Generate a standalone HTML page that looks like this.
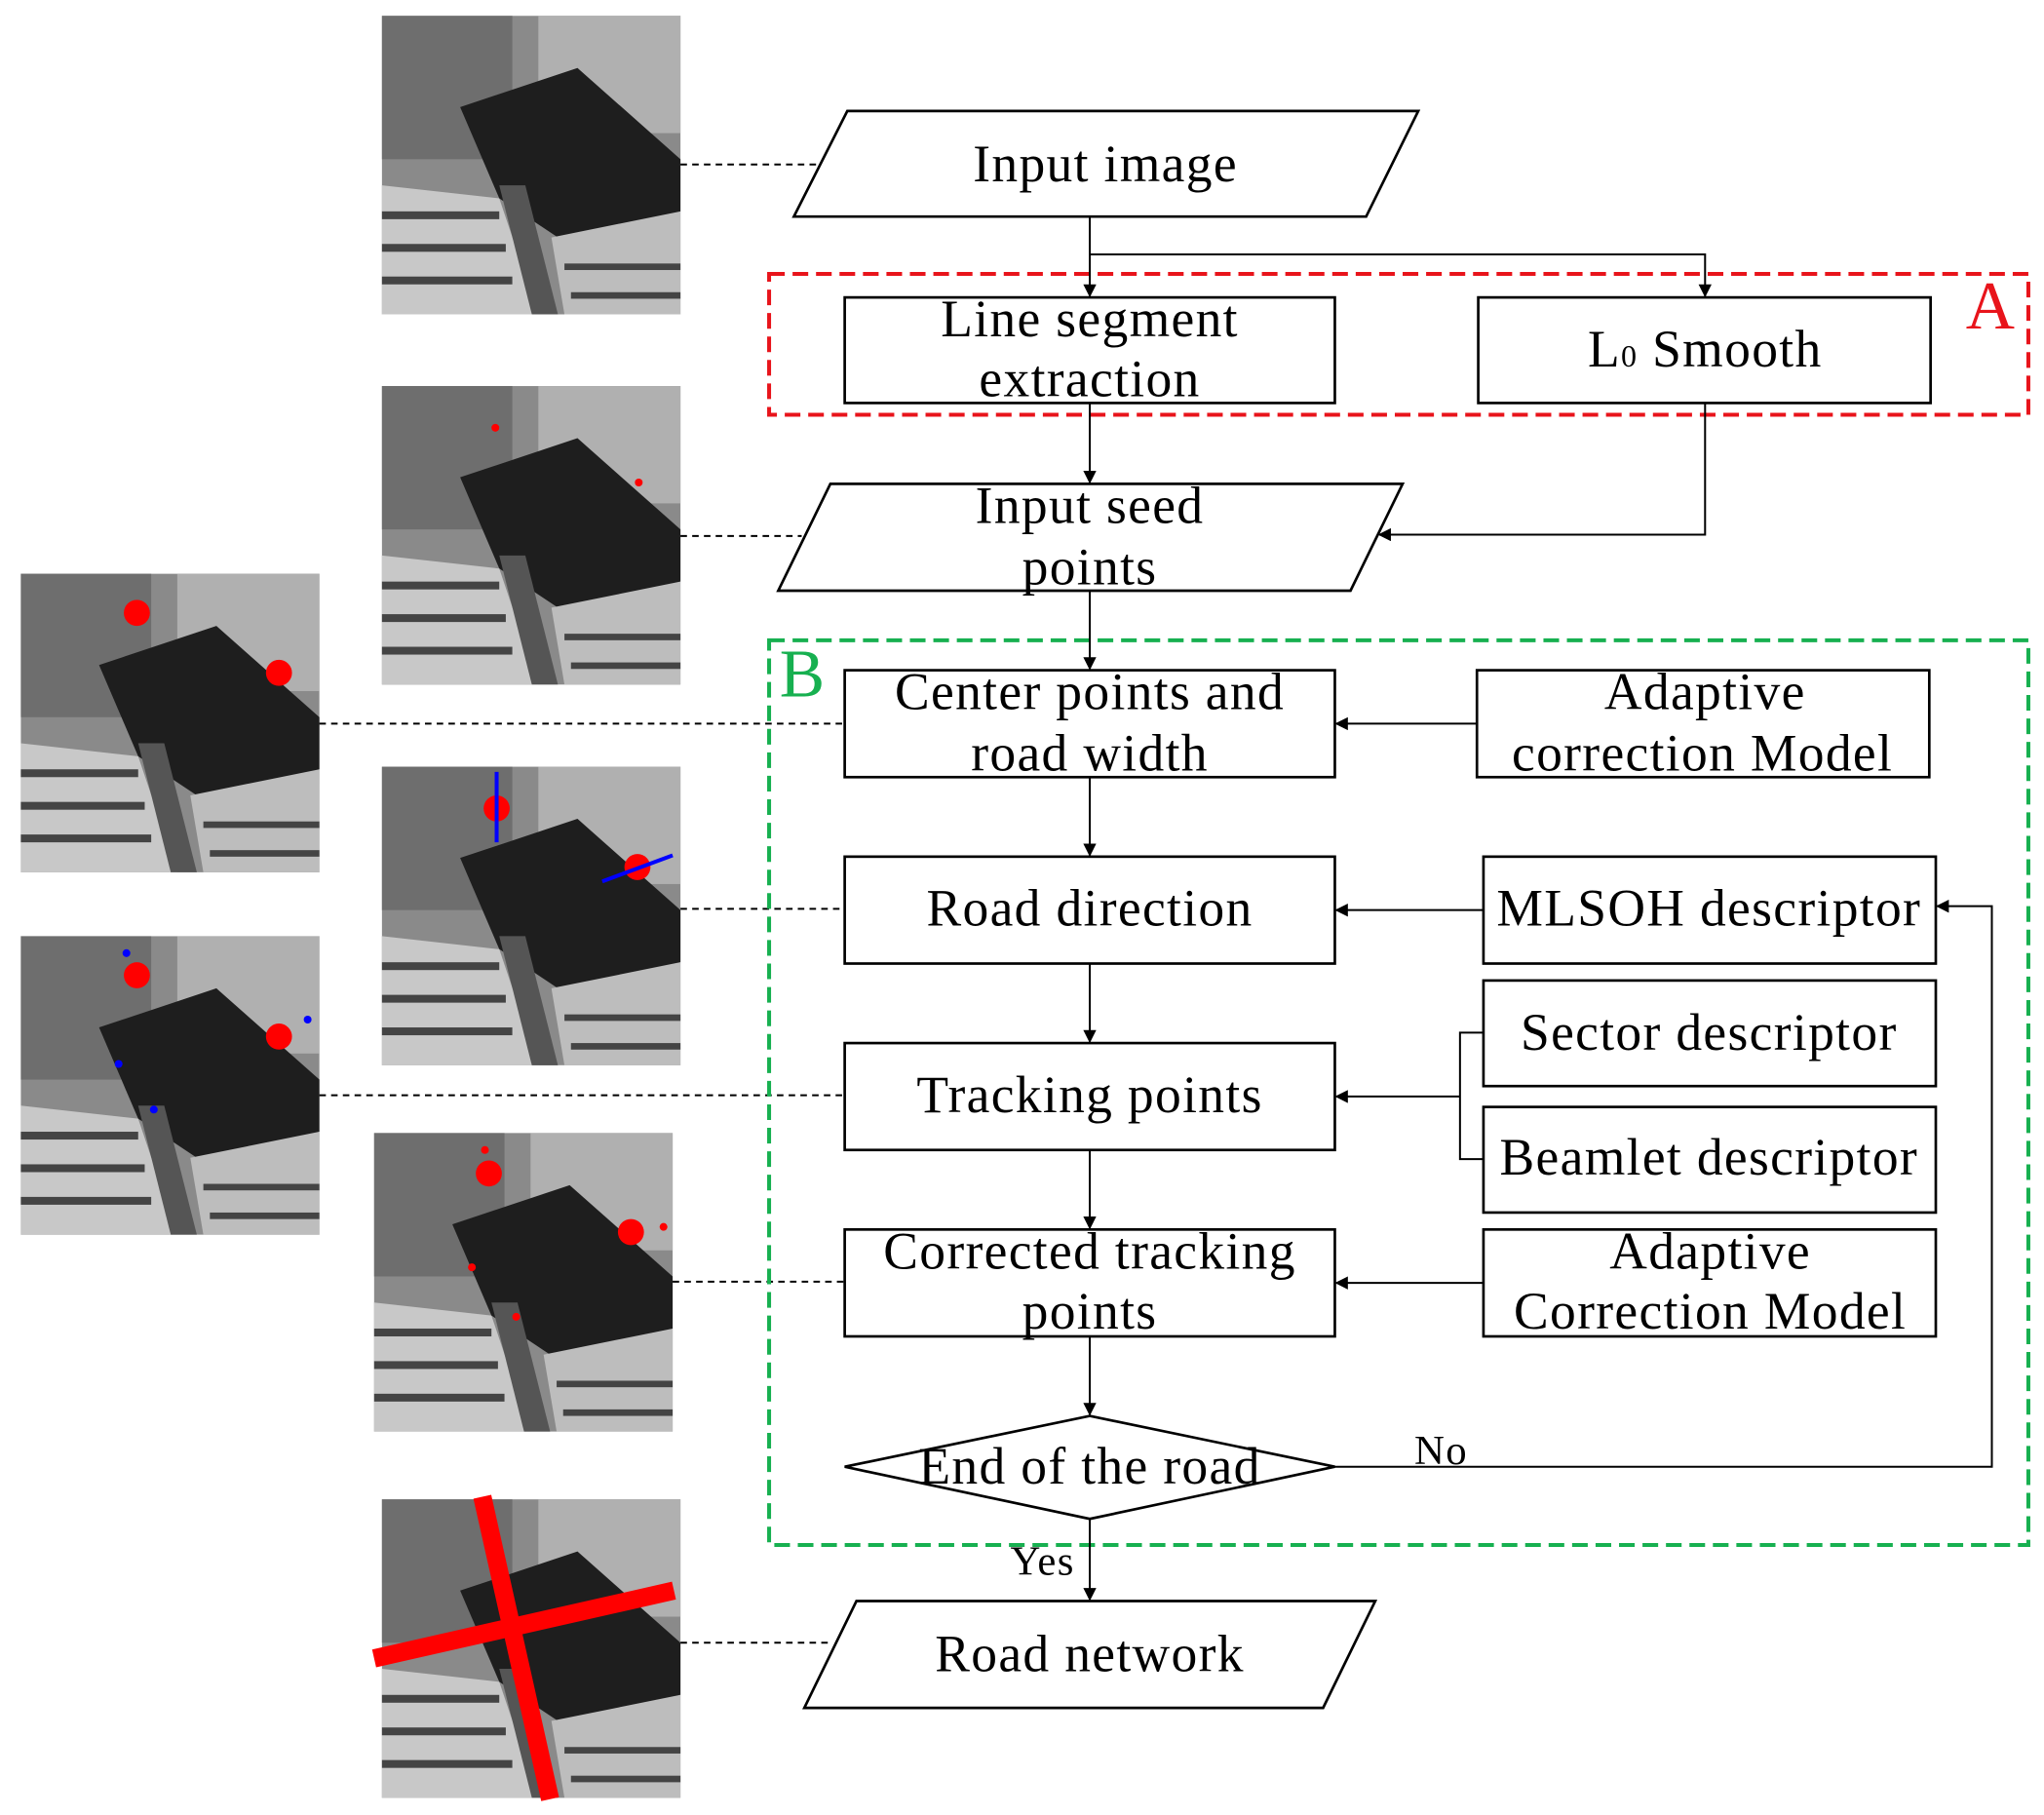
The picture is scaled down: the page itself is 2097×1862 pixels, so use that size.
<!DOCTYPE html>
<html><head><meta charset="utf-8"><style>
html,body{margin:0;padding:0;background:#fff;}
svg{display:block;}
text{font-family:"Liberation Serif",serif;font-size:40px;letter-spacing:1px;fill:#000;}
</style></head><body>
<svg width="2097" height="1862" viewBox="0 0 1568 1392" xmlns="http://www.w3.org/2000/svg">
<defs>
<marker id="ar" markerWidth="10" markerHeight="10" refX="9" refY="5" orient="auto" markerUnits="userSpaceOnUse"><path d="M0,0 L10,5 L0,10 z" fill="#000"/></marker>
<g id="img">
<rect x="0" y="0" width="229" height="229" fill="#8a8a8a"/>
<rect x="0" y="0" width="100" height="110" fill="#6e6e6e"/>
<rect x="120" y="0" width="109" height="90" fill="#b0b0b0"/>
<polygon points="60,70 150,40 229,110 229,150 150,180 90,140" fill="#1e1e1e"/>
<polygon points="0,130 90,140 120,229 0,229" fill="#c8c8c8"/>
<rect x="0" y="150" width="90" height="6" fill="#444"/>
<rect x="0" y="175" width="95" height="6" fill="#444"/>
<rect x="0" y="200" width="100" height="6" fill="#444"/>
<polygon points="130,170 229,150 229,229 140,229" fill="#bdbdbd"/>
<rect x="140" y="190" width="89" height="5" fill="#444"/>
<rect x="145" y="212" width="84" height="5" fill="#444"/>
<polygon points="90,130 110,130 135,229 115,229" fill="#555"/>
</g>
</defs>
<use href="#img" x="293" y="12"/>
<use href="#img" x="293" y="296"/>
<use href="#img" x="16" y="440"/>
<use href="#img" x="293" y="588"/>
<use href="#img" x="16" y="718"/>
<use href="#img" x="287" y="869"/>
<use href="#img" x="293" y="1150"/>
<circle cx="380" cy="328" r="3" fill="red"/><circle cx="490" cy="370" r="3" fill="red"/>
<circle cx="105" cy="470" r="10" fill="red"/><circle cx="214" cy="516" r="10" fill="red"/>
<circle cx="381" cy="620" r="10" fill="red"/><circle cx="489" cy="665" r="10" fill="red"/>
<line x1="381" y1="592" x2="381" y2="646" stroke="blue" stroke-width="3"/>
<line x1="462" y1="676" x2="516" y2="656" stroke="blue" stroke-width="3"/>
<circle cx="105" cy="748" r="10" fill="red"/><circle cx="214" cy="795" r="10" fill="red"/>
<circle cx="97" cy="731" r="3" fill="blue"/><circle cx="236" cy="782" r="3" fill="blue"/><circle cx="91" cy="816" r="3" fill="blue"/><circle cx="118" cy="851" r="3" fill="blue"/>
<circle cx="375" cy="900" r="10" fill="red"/><circle cx="484" cy="945" r="10" fill="red"/>
<circle cx="372" cy="882" r="3" fill="red"/><circle cx="509" cy="941" r="3" fill="red"/><circle cx="362" cy="972" r="3" fill="red"/><circle cx="396" cy="1010" r="3" fill="red"/>
<line x1="370" y1="1148" x2="422" y2="1380" stroke="red" stroke-width="14"/>
<line x1="287" y1="1272" x2="517" y2="1220" stroke="red" stroke-width="14"/>
<g stroke="#000" stroke-width="1.5" stroke-dasharray="5,4" fill="none">
<line x1="522" y1="126" x2="628" y2="126"/>
<line x1="522" y1="411" x2="615" y2="411"/>
<line x1="245" y1="555" x2="648" y2="555"/>
<line x1="522" y1="697" x2="648" y2="697"/>
<line x1="245" y1="840" x2="648" y2="840"/>
<line x1="516" y1="983" x2="648" y2="983"/>
<line x1="522" y1="1260" x2="638" y2="1260"/>
</g>
<rect x="590" y="210" width="966" height="108" fill="none" stroke="#e8141b" stroke-width="3" stroke-dasharray="12,6"/>
<text x="1508" y="252" style="font-size:52px;fill:#e8141b">A</text>
<rect x="590" y="491" width="966" height="694" fill="none" stroke="#17b050" stroke-width="3" stroke-dasharray="12,6"/>
<text x="598" y="534" style="font-size:52px;fill:#17b050">B</text>
<g fill="#fff" stroke="#000" stroke-width="2">
<polygon points="650,85 1088,85 1048,166 609,166"/>
<rect x="648" y="228" width="376" height="81"/>
<rect x="1134" y="228" width="347" height="81"/>
<polygon points="637,371 1076,371 1036,453 597,453"/>
<rect x="648" y="514" width="376" height="82"/>
<rect x="1133" y="514" width="347" height="82"/>
<rect x="648" y="657" width="376" height="82"/>
<rect x="1138" y="657" width="347" height="82"/>
<rect x="648" y="800" width="376" height="82"/>
<rect x="1138" y="752" width="347" height="81"/>
<rect x="1138" y="849" width="347" height="81"/>
<rect x="648" y="943" width="376" height="82"/>
<rect x="1138" y="943" width="347" height="82"/>
<polygon points="648,1125 836,1086 1024,1125 836,1165"/>
<polygon points="657,1228 1055,1228 1015,1310 617,1310"/>
</g>
<g stroke="#000" stroke-width="1.5" fill="none" marker-end="url(#ar)">
<line x1="836" y1="166" x2="836" y2="227"/>
<polyline points="836,195 1308,195 1308,227"/>
<line x1="836" y1="309" x2="836" y2="370"/>
<polyline points="1308,309 1308,410 1058,410"/>
<line x1="836" y1="453" x2="836" y2="513"/>
<line x1="1133" y1="555" x2="1025" y2="555"/>
<line x1="836" y1="596" x2="836" y2="656"/>
<line x1="1138" y1="698" x2="1025" y2="698"/>
<line x1="836" y1="739" x2="836" y2="799"/>
<line x1="1120" y1="841" x2="1025" y2="841"/>
<line x1="836" y1="882" x2="836" y2="942"/>
<line x1="1138" y1="984" x2="1025" y2="984"/>
<line x1="836" y1="1025" x2="836" y2="1085"/>
<polyline points="1024,1125 1528,1125 1528,695 1486,695"/>
<line x1="836" y1="1165" x2="836" y2="1227"/>
</g>
<polyline points="1138,792 1120,792 1120,889 1138,889" stroke="#000" stroke-width="1.5" fill="none"/>
<g text-anchor="middle">
<text x="848" y="139">Input image</text>
<text x="836" y="258">Line segment</text>
<text x="836" y="304">extraction</text>
<text x="1308" y="281">L<tspan style="font-size:24px">0</tspan>  Smooth</text>
<text x="836" y="401">Input seed</text>
<text x="836" y="448">points</text>
<text x="836" y="544">Center points and</text>
<text x="836" y="591">road width</text>
<text x="1308" y="544">Adaptive</text>
<text x="1306" y="591">correction Model</text>
<text x="836" y="710">Road direction</text>
<text x="1311" y="710">MLSOH descriptor</text>
<text x="836" y="853">Tracking points</text>
<text x="1311" y="805">Sector descriptor</text>
<text x="1311" y="901">Beamlet descriptor</text>
<text x="836" y="973">Corrected tracking</text>
<text x="836" y="1019">points</text>
<text x="1312" y="973">Adaptive</text>
<text x="1312" y="1019">Correction Model</text>
<text x="836" y="1138">End of the road</text>
<text x="836" y="1282">Road network</text>
</g>
<text x="1085" y="1123" style="font-size:32px">No</text>
<text x="775" y="1208" style="font-size:32px">Yes</text>
</svg>
</body></html>
